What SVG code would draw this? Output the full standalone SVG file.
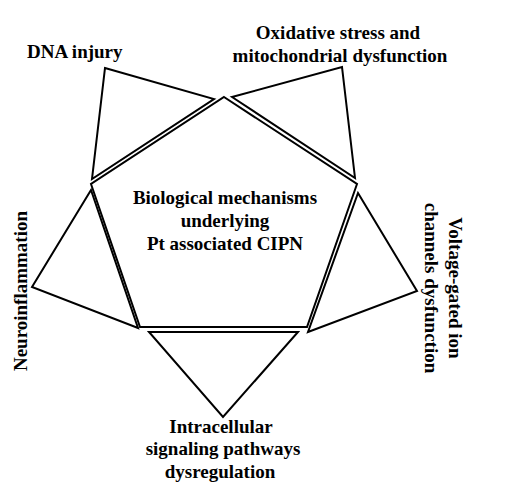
<svg xmlns="http://www.w3.org/2000/svg" width="523" height="496" viewBox="0 0 523 496">
<style>
.shape{fill:none;stroke:#000;stroke-width:2;stroke-linejoin:miter}
.lbl{font-family:"Liberation Serif","Times New Roman",serif;font-weight:bold;font-size:19px;fill:#000}
</style>
<rect width="523" height="496" fill="#fff"/>
<g id="connectors"></g>
<g id="center">
<polygon class="shape" points="224,97 357,184 307,327 140,327 91,184"/>
<text class="lbl" text-anchor="middle" x="225" y="204">Biological mechanisms</text>
<text class="lbl" text-anchor="middle" x="225" y="227">underlying</text>
<text class="lbl" text-anchor="middle" x="225" y="250">Pt associated CIPN</text>
</g>
<g id="dna-injury">
<polygon class="shape" points="105,68 214,99 92,179"/>
<text class="lbl" x="27" y="57.5">DNA injury</text>
</g>
<g id="oxidative-stress">
<polygon class="shape" points="232,97 342,67 355,178"/>
<text class="lbl" text-anchor="middle" x="338" y="39">Oxidative stress and</text>
<text class="lbl" text-anchor="middle" x="340" y="62">mitochondrial dysfunction</text>
</g>
<g id="voltage-gated">
<polygon class="shape" points="358,193 417,291 308,332"/>
<text class="lbl" text-anchor="middle" transform="translate(449,288) rotate(90)">Voltage-gated ion</text>
<text class="lbl" text-anchor="middle" transform="translate(425,288) rotate(90)">channels dysfunction</text>
</g>
<g id="intracellular">
<polygon class="shape" points="149,332 298,332 223,417"/>
<text class="lbl" text-anchor="middle" x="221" y="433">Intracellular</text>
<text class="lbl" text-anchor="middle" x="223" y="455">signaling pathways</text>
<text class="lbl" text-anchor="middle" x="220" y="478">dysregulation</text>
</g>
<g id="neuroinflammation">
<polygon class="shape" points="91,190 32,287 138,328"/>
<text class="lbl" text-anchor="middle" transform="translate(27,291) rotate(-90)">Neuroinflammation</text>
</g>
</svg>
